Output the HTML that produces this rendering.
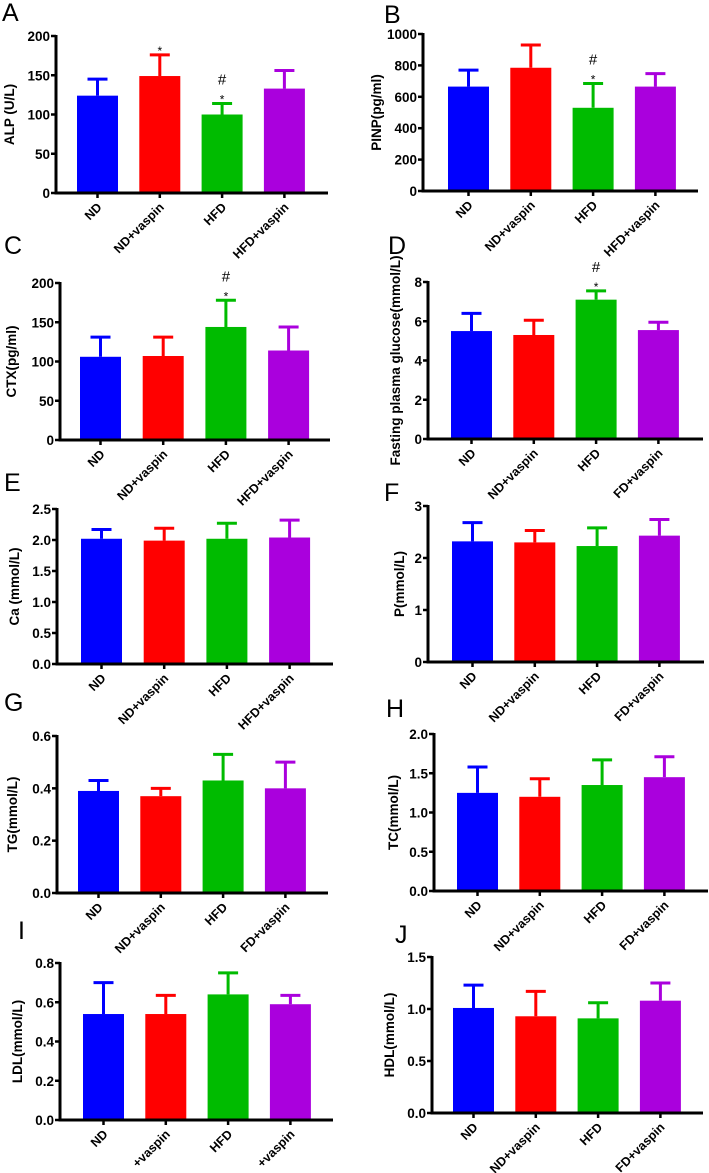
<!DOCTYPE html>
<html><head><meta charset="utf-8">
<style>
html,body{margin:0;padding:0;background:#fff;}
svg{display:block;font-family:"Liberation Sans",Arial,sans-serif;}
</style></head>
<body>
<svg id="fig" width="709" height="1173" viewBox="0 0 709 1173"></svg>
<script>
// ---- data ----
const groupsStd = ["ND","ND+vaspin","HFD","HFD+vaspin"];
const groupsFD = ["ND","ND+vaspin","HFD","FD+vaspin"];
const groupsI = ["ND","+vaspin","HFD","+vaspin"];
const alpValues = [124,149,100,133];
const alpErrTop = [145,176,114,156];
const pinpValues = [665,785,530,665];
const pinpErrTop = [770,930,685,748];
const ctxValues = [106,107,144,114];
const ctxErrTop = [131,131,178,144];
const glucValues = [5.5,5.3,7.1,5.55];
const glucErrTop = [6.4,6.05,7.55,5.95];
const caValues = [2.02,1.99,2.02,2.04];
const caErrTop = [2.17,2.19,2.27,2.32];
const pValues = [2.32,2.30,2.23,2.43];
const pErrTop = [2.68,2.53,2.58,2.74];
const tgValues = [0.39,0.37,0.43,0.40];
const tgErrTop = [0.43,0.40,0.53,0.50];
const tcValues = [1.25,1.20,1.35,1.45];
const tcErrTop = [1.58,1.43,1.67,1.71];
const ldlValues = [0.54,0.54,0.64,0.59];
const ldlErrTop = [0.70,0.635,0.75,0.635];
const hdlValues = [1.01,0.93,0.91,1.08];
const hdlErrTop = [1.23,1.17,1.06,1.25];
const alpTicks = [0,50,100,150,200];
const pinpTicks = [0,200,400,600,800,1000];
const ctxTicks = [0,50,100,150,200];
const glucTicks = [0,2,4,6,8];
const caTicks = ["0.0","0.5","1.0","1.5","2.0","2.5"];
const pTicks = [0,1,2,3];
const tgTicks = ["0.0","0.2","0.4","0.6"];
const tcTicks = ["0.0","0.5","1.0","1.5","2.0"];
const ldlTicks = ["0.0","0.2","0.4","0.6","0.8"];
const hdlTicks = ["0.0","0.5","1.0","1.5"];
const alpMarks = [[],["*"],["*","#"],[]];
const pinpMarks = [[],[],["*","#"],[]];
const ctxMarks = [[],[],["*","#"],[]];
const glucMarks = [[],[],["*","#"],[]];

const colors = ["#0000ff","#ff0000","#00bb00","#aa00dd"];
const NS = "http://www.w3.org/2000/svg";
const svg = document.getElementById("fig");
function el(tag, attrs, parent, text){
  const e = document.createElementNS(NS, tag);
  for (const k in attrs) e.setAttribute(k, attrs[k]);
  if (text !== undefined) e.textContent = text;
  (parent||svg).appendChild(e);
  return e;
}
const panels = [
 {id:"alp", letter:"A", lx:2, ly:21, title:"ALP (U/L)", tOff:42, ax:56, x0:77, gap:62.3, bw:41, yTop:36, yZero:193, xEnd:328, groups:groupsStd, vals:alpValues, err:alpErrTop, ticks:alpTicks, marks:alpMarks},
 {id:"pinp", letter:"B", lx:384, ly:23, title:"PINP(pg/ml)", tOff:42, ax:423, x0:448, gap:62.3, bw:41, yTop:34, yZero:191, xEnd:698, groups:groupsStd, vals:pinpValues, err:pinpErrTop, ticks:pinpTicks, marks:pinpMarks},
 {id:"ctx", letter:"C", lx:4, ly:254, title:"CTX(pg/ml)", tOff:44, ax:60, x0:80, gap:62.7, bw:41, yTop:283, yZero:440, xEnd:330, groups:groupsStd, vals:ctxValues, err:ctxErrTop, ticks:ctxTicks, marks:ctxMarks},
 {id:"glucose", letter:"D", lx:388, ly:254, title:"Fasting plasma glucose(mmol/L)", tOff:28, ax:428, x0:451, gap:62.3, bw:41, yTop:282, yZero:439, xEnd:703, groups:groupsFD, vals:glucValues, err:glucErrTop, ticks:glucTicks, marks:glucMarks},
 {id:"ca", letter:"E", lx:4, ly:491, title:"Ca  (mmol/L)", tOff:38, ax:57, x0:81, gap:62.7, bw:41, yTop:509, yZero:664, xEnd:333, groups:groupsStd, vals:caValues, err:caErrTop, ticks:caTicks, marks:null},
 {id:"p", letter:"F", lx:384, ly:501, title:"P(mmol/L)", tOff:24, ax:428, x0:452, gap:62.3, bw:41, yTop:506, yZero:662, xEnd:704, groups:groupsFD, vals:pValues, err:pErrTop, ticks:pTicks, marks:null},
 {id:"tg", letter:"G", lx:4, ly:711, title:"TG(mmol/L)", tOff:40, ax:57, x0:78, gap:62.3, bw:41, yTop:736, yZero:893, xEnd:328, groups:groupsFD, vals:tgValues, err:tgErrTop, ticks:tgTicks, marks:null},
 {id:"tc", letter:"H", lx:386, ly:717, title:"TC(mmol/L)", tOff:36, ax:434, x0:457, gap:62.3, bw:41, yTop:734, yZero:891, xEnd:708, groups:groupsFD, vals:tcValues, err:tcErrTop, ticks:tcTicks, marks:null},
 {id:"ldl", letter:"I", lx:18, ly:939, title:"LDL(mmol/L)", tOff:38, ax:60, x0:83, gap:62.3, bw:41, yTop:963, yZero:1120, xEnd:333, groups:groupsI, vals:ldlValues, err:ldlErrTop, ticks:ldlTicks, marks:null},
 {id:"hdl", letter:"J", lx:395, ly:943, title:"HDL(mmol/L)", tOff:38, ax:432, x0:453, gap:62.3, bw:41, yTop:957, yZero:1113, xEnd:703, groups:groupsFD, vals:hdlValues, err:hdlErrTop, ticks:hdlTicks, marks:null}
];

panels.forEach(p => {
  const g = el("g", {});
  
  
  const tmax = parseFloat(p.ticks[p.ticks.length-1]);
  const y = v => p.yZero - (v / tmax) * (p.yZero - p.yTop);
  const cx = i => p.x0 + i * p.gap + p.bw / 2;

  const L = el("text", {x:p.lx, y:p.ly, "font-size":25, fill:"#000"}, g, p.letter);
  
  

  p.vals.forEach((v, i) => {
    const r = el("rect", {x:p.x0 + i*p.gap, y:y(v), width:p.bw, height:p.yZero - y(v), fill:colors[i]}, g);
    
    
    const e = el("path", {d:`M${cx(i)},${y(v)}V${y(p.err[i])}M${cx(i)-10},${y(p.err[i])}H${cx(i)+10}`, stroke:colors[i], "stroke-width":3, fill:"none"}, g);
    
    
    if (p.marks && p.marks[i].length) {
      p.marks[i].forEach((m, k) => {
        const my = y(p.err[i]) - 6 - k * 13;
        const t = el("text", {x:cx(i), y: m === "*" ? my + 6 : my, "text-anchor":"middle", "font-size": m === "*" ? 12 : 15, fill:"#000"}, g, m);
        
        
      });
    }
  });

  const ya = el("line", {x1:p.ax, y1:p.yTop-1, x2:p.ax, y2:p.yZero+1.5, stroke:"#000", "stroke-width":3}, g);
  
  
  const xa = el("line", {x1:p.ax-1.5, y1:p.yZero, x2:p.xEnd, y2:p.yZero, stroke:"#000", "stroke-width":3}, g);
  
  

  p.ticks.forEach(t => {
    const yy = y(parseFloat(t));
    el("line", {x1:p.ax-5, y1:yy, x2:p.ax, y2:yy, stroke:"#000", "stroke-width":2.5}, g);
    const tl = el("text", {x:p.ax-6, y:yy+5, "text-anchor":"end", "font-size":13.5, "font-weight":"bold", fill:"#000"}, g, String(t));
    
    
  });

  p.groups.forEach((c, i) => {
    el("line", {x1:cx(i), y1:p.yZero, x2:cx(i), y2:p.yZero+5, stroke:"#000", "stroke-width":2.5}, g);
    const tx = cx(i) + 5, ty = p.yZero + 15;
    const xl = el("text", {x:tx, y:ty, "text-anchor":"end", "font-size":12.5, "font-weight":"bold", fill:"#000", transform:`rotate(-45 ${tx} ${ty})`}, g, c);
    
    
  });

  const tx = p.ax - p.tOff, ty = (p.yTop + p.yZero) / 2;
  const yt = el("text", {x:tx, y:ty, "text-anchor":"middle", "font-size":13.5, "font-weight":"bold", fill:"#000", transform:`rotate(-90 ${tx} ${ty})`}, g, p.title);
  
  
});
</script>
</body></html>
